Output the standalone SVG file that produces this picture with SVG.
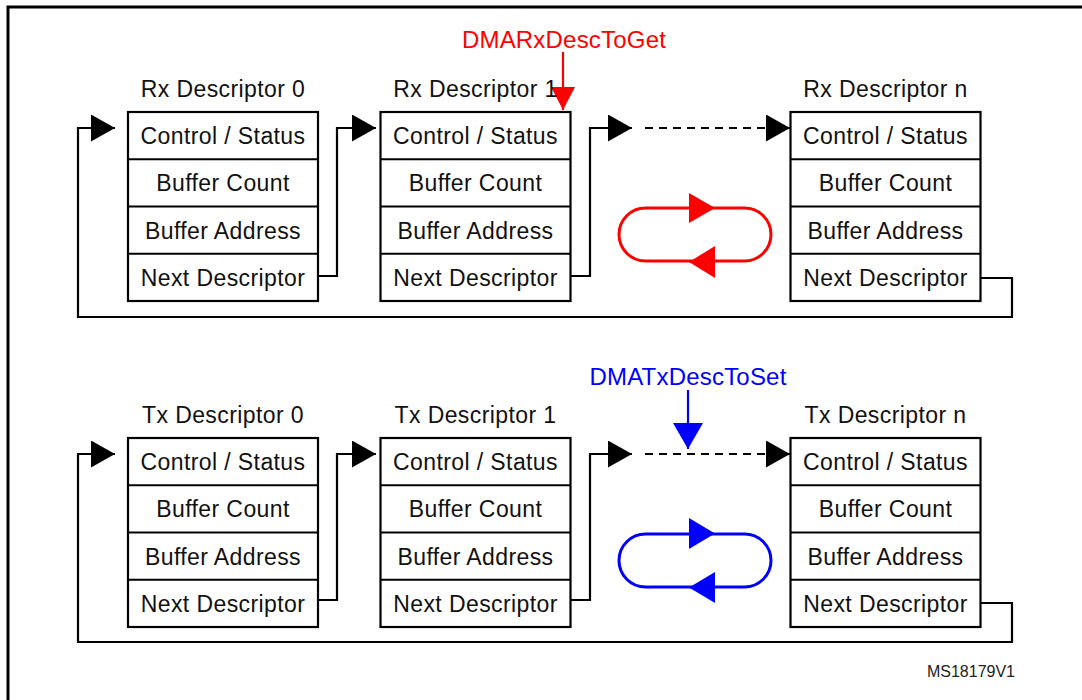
<svg xmlns="http://www.w3.org/2000/svg" width="1082" height="700" viewBox="0 0 1082 700">
<style>
.frame{fill:none;stroke:#000;stroke-width:3}
.box{fill:#fff;stroke:#000;stroke-width:2.2}
.div{stroke:#000;stroke-width:2.2}
.t{font-family:"Liberation Sans",Arial,sans-serif;font-size:23px;letter-spacing:0.4px;fill:#111;text-anchor:middle}
.conn{fill:none;stroke:#000;stroke-width:2.2}
.dash{fill:none;stroke:#000;stroke-width:2.2;stroke-dasharray:8,6}
.red{fill:none;stroke:#ff0000;stroke-width:3}
.blue{fill:none;stroke:#0000ff;stroke-width:3}
.lbl{font-family:"Liberation Sans",Arial,sans-serif;font-size:24px;letter-spacing:0.2px;text-anchor:middle}
.id{font-family:"Liberation Sans",Arial,sans-serif;font-size:16px;fill:#222;text-anchor:end}
</style>
<defs>
<marker id="ah" markerUnits="userSpaceOnUse" viewBox="0 0 24 27" refX="24" refY="13.5" markerWidth="24" markerHeight="27" orient="auto">
<path d="M0,0 L24,13.5 L0,27 Z" fill="#000"/>
</marker>
<marker id="ahr" markerUnits="userSpaceOnUse" viewBox="0 0 23 24" refX="23" refY="12" markerWidth="23" markerHeight="24" orient="auto">
<path d="M0,0 L23,12 L0,24 Z" fill="#ff0000"/>
</marker>
<marker id="ahb" markerUnits="userSpaceOnUse" viewBox="0 0 26 30" refX="26" refY="15" markerWidth="26" markerHeight="30" orient="auto">
<path d="M0,0 L26,15 L0,30 Z" fill="#0000ff"/>
</marker>
<g id="desc">
<rect class="box" x="0" y="0" width="190" height="189"/>
<line class="div" x1="0" y1="47.25" x2="190" y2="47.25"/>
<line class="div" x1="0" y1="94.5" x2="190" y2="94.5"/>
<line class="div" x1="0" y1="141.75" x2="190" y2="141.75"/>
<text class="t" x="95" y="32">Control / Status</text>
<text class="t" x="95" y="79.25">Buffer Count</text>
<text class="t" x="95" y="126.5">Buffer Address</text>
<text class="t" x="95" y="173.75">Next Descriptor</text>
</g>
</defs>

<path class="frame" d="M8,700 V7 H1082"/>

<g id="connectors">
<path class="conn" d="M318,276 H337 V128 H376" marker-end="url(#ah)"/>
<path class="conn" d="M570,276 H590 V128 H632" marker-end="url(#ah)"/>
<path class="dash" d="M645,128 H767"/>
<path class="conn" d="M767,128 H790" marker-end="url(#ah)"/>
<path class="conn" d="M980,278 H1012 V317 H78 V128 H115" marker-end="url(#ah)"/>
<path class="conn" d="M318,600 H337 V454 H376" marker-end="url(#ah)"/>
<path class="conn" d="M570,600 H590 V454 H632" marker-end="url(#ah)"/>
<path class="dash" d="M645,454 H767"/>
<path class="conn" d="M767,454 H790" marker-end="url(#ah)"/>
<path class="conn" d="M980,603 H1012 V642 H78 V454 H115" marker-end="url(#ah)"/>
<path d="M563,52 V110" stroke="#ff0000" stroke-width="2.2" marker-end="url(#ahr)"/>
<path d="M688,390 V449" stroke="#0000ff" stroke-width="2.2" marker-end="url(#ahb)"/>
</g>

<g id="rx0"><text class="t" x="223" y="97">Rx Descriptor 0</text><use href="#desc" x="128" y="112"/></g>
<g id="rx1"><text class="t" x="475.5" y="97">Rx Descriptor 1</text><use href="#desc" x="380.5" y="112"/></g>
<g id="rxn"><text class="t" x="885.5" y="97">Rx Descriptor n</text><use href="#desc" x="790.5" y="112"/></g>
<g id="tx0"><text class="t" x="223" y="423">Tx Descriptor 0</text><use href="#desc" x="128" y="438"/></g>
<g id="tx1"><text class="t" x="475.5" y="423">Tx Descriptor 1</text><use href="#desc" x="380.5" y="438"/></g>
<g id="txn"><text class="t" x="885.5" y="423">Tx Descriptor n</text><use href="#desc" x="790.5" y="438"/></g>

<g id="rxptr"><text class="lbl" x="564" y="48" fill="#ff0000">DMARxDescToGet</text></g>
<g id="txptr"><text class="lbl" x="688" y="385" fill="#0000ff">DMATxDescToSet</text></g>

<g id="rxloop">
<path class="red" d="M645.5,208 H744.5 A26.5,26.5 0 0 1 744.5,261 H645.5 A26.5,26.5 0 0 1 645.5,208 Z"/>
<polygon points="689,193 715,208 689,223" fill="#ff0000"/>
<polygon points="715,246 689,262 715,278" fill="#ff0000"/>
</g>
<g id="txloop">
<path class="blue" d="M645.5,534 H744.5 A26.5,26.5 0 0 1 744.5,587 H645.5 A26.5,26.5 0 0 1 645.5,534 Z"/>
<polygon points="689,518 715,533.5 689,549" fill="#0000ff"/>
<polygon points="715,572 689,587.5 715,603" fill="#0000ff"/>
</g>

<text class="id" x="1015" y="677">MS18179V1</text>
</svg>
